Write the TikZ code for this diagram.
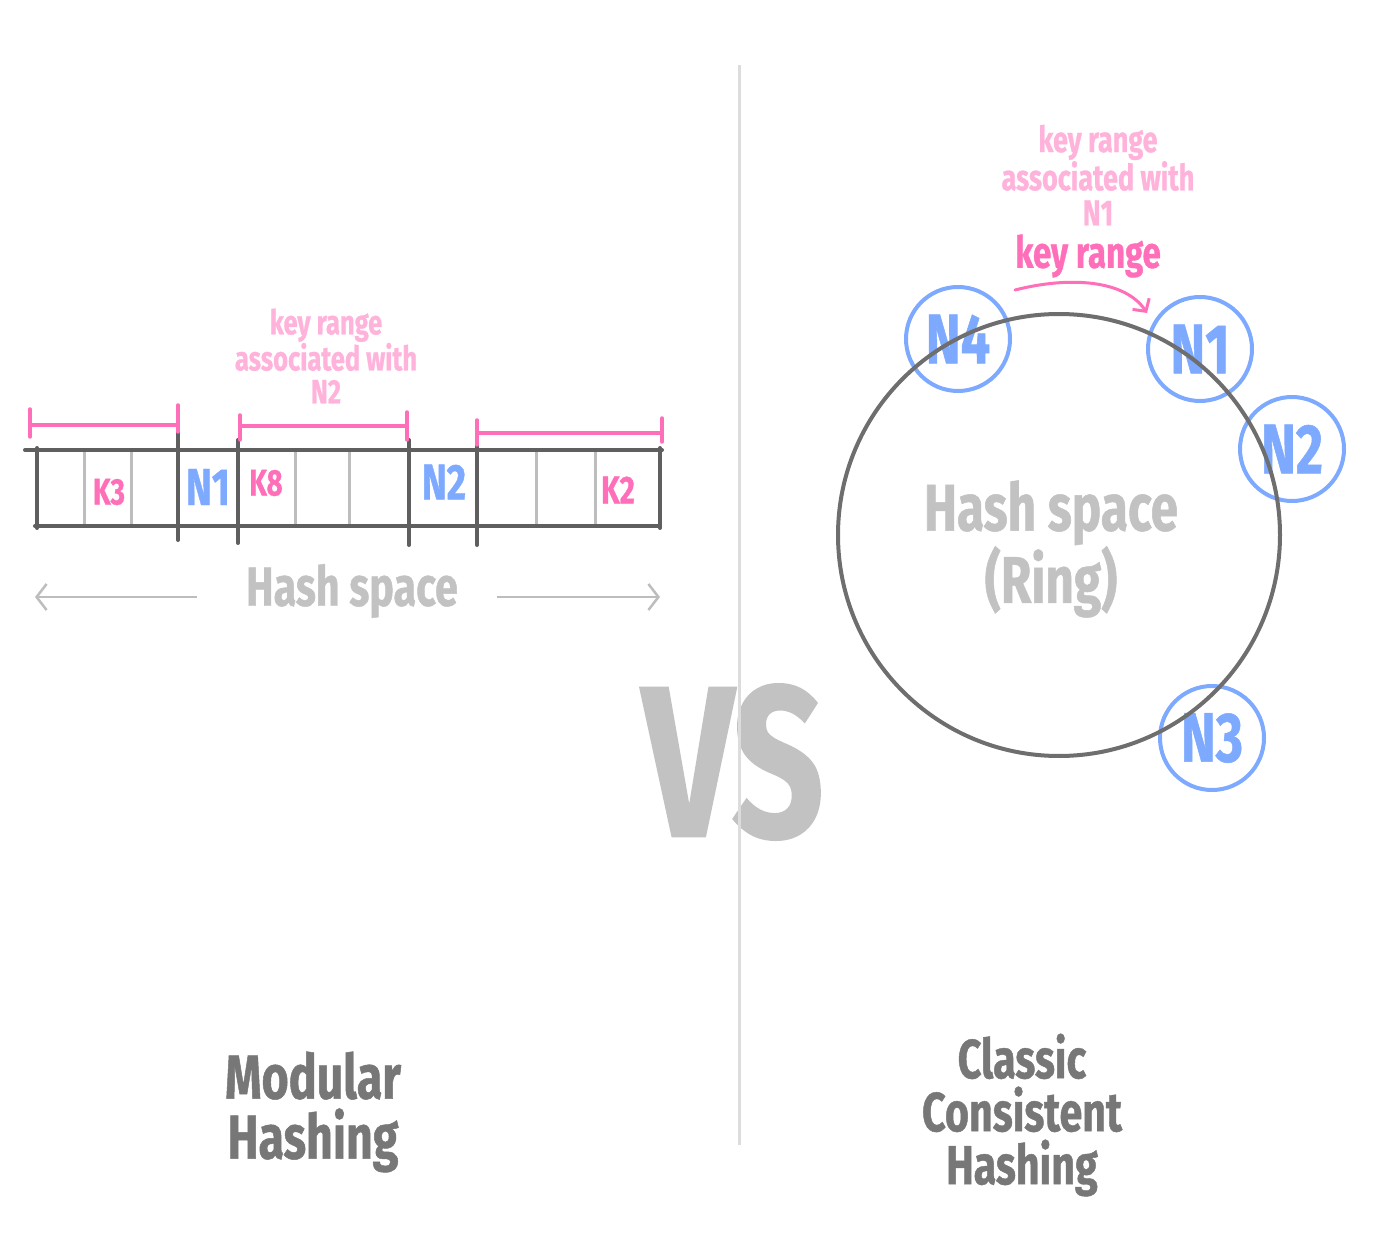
\documentclass[tikz,border=0pt]{standalone}
\usepackage{fontspec}
\newfontfamily\hand{Fira Sans}[FakeStretch=0.75, BoldFeatures={FakeBold=0.8}]
\usetikzlibrary{arrows.meta}
\definecolor{boxline}{HTML}{5F5F5F}
\definecolor{cellline}{HTML}{BDBDBD}
\definecolor{pinkline}{HTML}{FF6EB8}
\definecolor{lightpink}{HTML}{FFB3DB}
\definecolor{nodeblue}{HTML}{7DAAFF}
\definecolor{titlegray}{HTML}{777777}
\definecolor{hashgray}{HTML}{C2C2C2}
\definecolor{sepgray}{HTML}{DCDCDC}
\definecolor{ringgray}{HTML}{6E6E6E}
\newcommand\hf[2]{\hand\bfseries\fontsize{#1}{#2}\selectfont}
\begin{document}
\begin{tikzpicture}[x=1pt,y=-1pt,
  txt/.style={inner sep=0pt, align=center},
  boxedge/.style={draw=boxline, line width=4pt, line cap=round},
  celledge/.style={draw=cellline, line width=3pt, line cap=round},
  bracket/.style={draw=pinkline, line width=3.5pt, line cap=round},
  hasharrow/.style={draw=cellline, line width=2.5pt, -{Straight Barb[length=10pt,width=26pt,line width=2.5pt]}},
  ringnode/.style={circle, draw=nodeblue, line width=4pt, minimum size=104pt, inner sep=0pt, text=nodeblue, font=\hf{70}{70}},
]
\useasboundingbox (0,0) rectangle (1390,1238);
% VS behind separator
\node[txt, text=hashgray, font=\hf{215}{215}] (vs) at (733,762) {VS};
% separator
\coordinate (septop) at (739,65);
\coordinate (sepbot) at (739,1145);
\draw[sepgray, line width=3pt] (septop) -- (sepbot);

% ---------- left: modular hashing ----------
% cell lines
\foreach \x in {84,131,295,349,536,595}
  \draw[celledge] (\x,452) -- (\x,526);
% box
\draw[boxedge] (25,450) -- (662,450);
\draw[boxedge] (35,526) -- (660,526);
\draw[boxedge] (37,448) -- (37,528);
\draw[boxedge] (660,448) -- (660,528);
\draw[boxedge] (178,432) -- (178,540);
\draw[boxedge] (238,440) -- (238,543);
\draw[boxedge] (409,440) -- (409,545);
\draw[boxedge] (477,445) -- (477,545);
% brackets
\draw[bracket] (30,425) -- (178,425);
\draw[bracket] (30,409) -- (30,437);
\draw[bracket] (178,405) -- (178,432);
\draw[bracket] (240,426) -- (407,426);
\draw[bracket] (240,415) -- (240,440);
\draw[bracket] (407,412) -- (407,440);
\draw[bracket] (477,433) -- (662,433);
\draw[bracket] (477,420) -- (477,445);
\draw[bracket] (662,418) -- (662,442);
% labels in cells
\node[txt, text=pinkline, font=\hf{37}{37}] (k3) at (109,492) {K3};
\node[txt, text=nodeblue, font=\hf{52}{52}] (n1a) at (208,487) {N1};
\node[txt, text=pinkline, font=\hf{37}{37}] (k8) at (266,483) {K8};
\node[txt, text=nodeblue, font=\hf{50}{50}] (n2a) at (444,482) {N2};
\node[txt, text=pinkline, font=\hf{39}{39}] (k2) at (618,490) {K2};
% range label
\node[txt, text=lightpink, font=\hf{34}{33}] (rangeN2) at (326,356) {key range\\associated with\\N2};
% hash space
\node[txt, text=hashgray, font=\hf{55}{55}] (hashlin) at (352,591) {Hash space};
\coordinate (leftend) at (35,597);
\coordinate (rightend) at (660,597);
\coordinate (leftstart) at (197,597);
\coordinate (rightstart) at (497,597);
\draw[hasharrow] (leftstart) -- (leftend);
\draw[hasharrow] (rightstart) -- (rightend);
% title
\node[txt, text=titlegray, font=\hf{62}{60}] (modtitle) at (313,1112) {Modular\\Hashing};

% ---------- right: consistent hashing ----------
\node[ringnode] (N4) at (958,339) {N4};
\node[ringnode] (N1) at (1200,349) {N1};
\node[ringnode] (N2) at (1292,449) {N2};
\node[ringnode] (N3) at (1212,738) {N3};
\node[circle, draw=ringgray, line width=4pt, minimum size=442pt, inner sep=0pt] (ring) at (1059,535) {};
\node[txt, text=hashgray, font=\hf{66}{64}] (hashring) at (1051,549) {Hash space\\(Ring)};
\node[txt, text=lightpink, font=\hf{36}{35}] (rangeN1) at (1098,175) {key range\\associated with\\N1};
\node[txt, text=pinkline, font=\hf{44}{44}] (keyrange) at (1088,256) {key range};
\coordinate (arcstart) at (1015,290);
\coordinate (arcend) at (1147,313);
\draw[pinkline, line width=3pt, line cap=round, -{Straight Barb[length=9pt,width=20pt,line width=3pt]}]
  (arcstart) .. controls (1070,276) and (1125,280) .. (arcend);
\node[txt, text=titlegray, font=\hf{55}{53}] (cchtitle) at (1022,1115) {Classic\\Consistent\\Hashing};
\end{tikzpicture}
\end{document}
